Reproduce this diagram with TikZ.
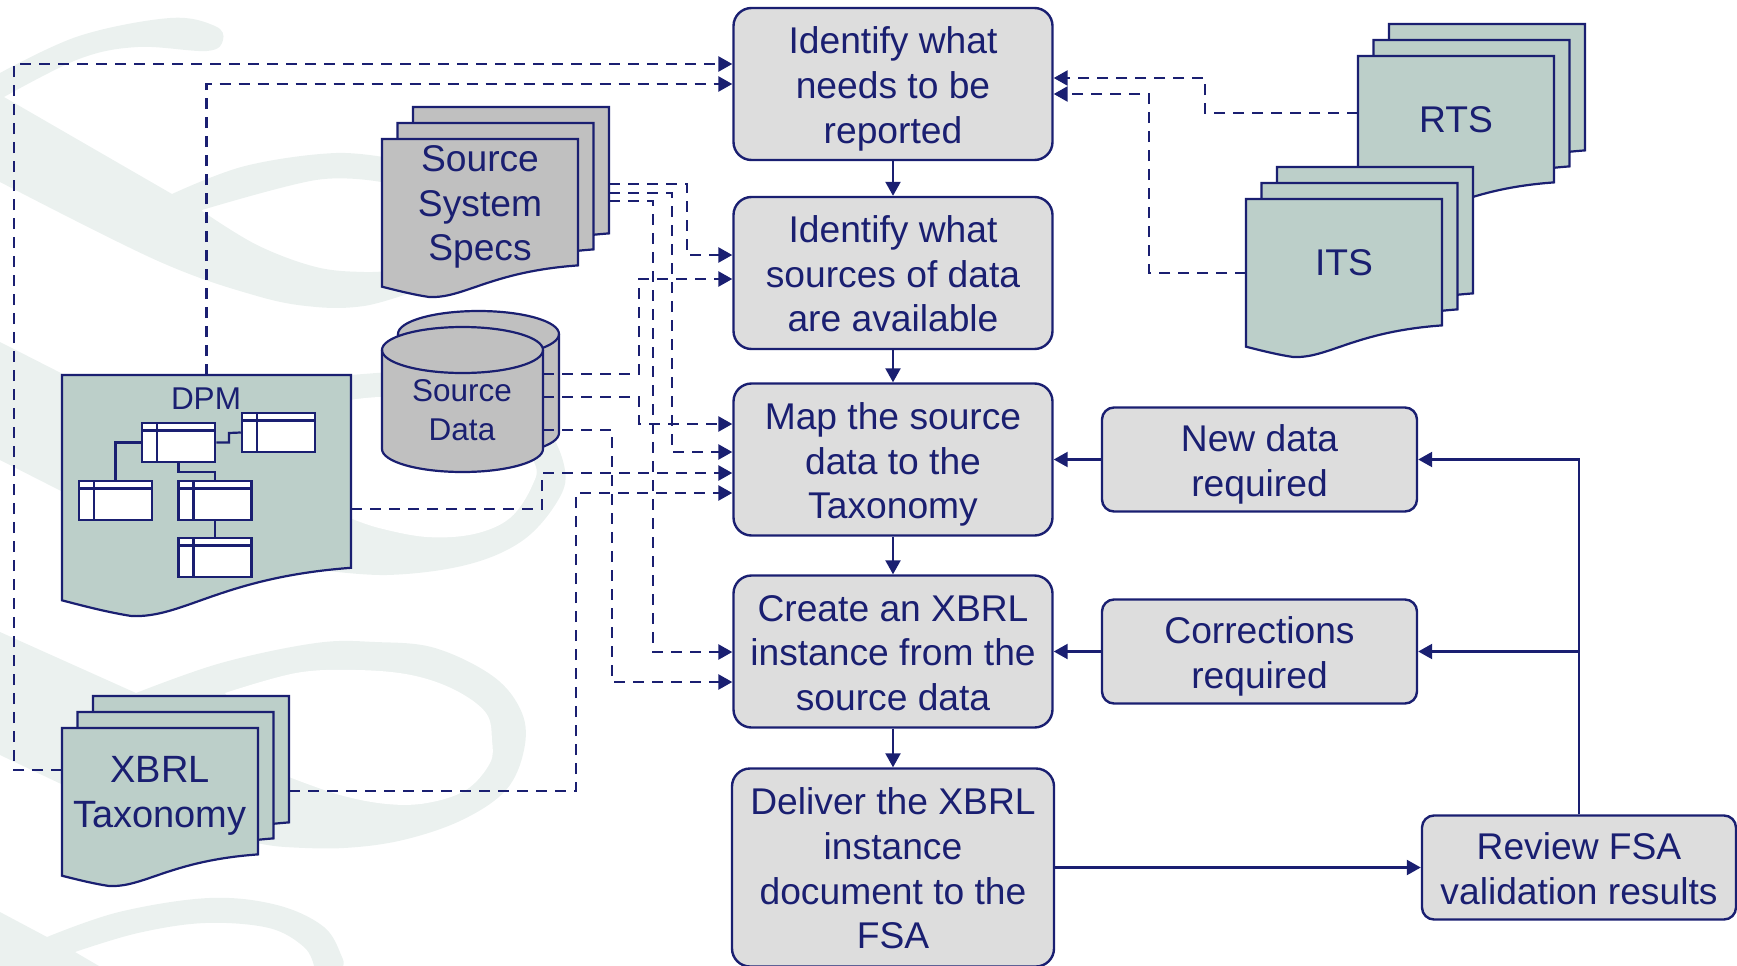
\documentclass[tikz,border=0pt]{standalone}
\usepackage{fontspec}
\setmainfont{Liberation Sans}
\usetikzlibrary{arrows.meta}
\definecolor{navyline}{HTML}{1A1F71}
\definecolor{stepgrey}{HTML}{DDDDDD}
\definecolor{docgreen}{HTML}{BCCFC9}
\definecolor{docgrey}{HTML}{C0C0C0}
\definecolor{swooshtint}{HTML}{EBF1EF}
\newcommand{\nodrop}[1]{\raisebox{0pt}[\height][0pt]{#1}}
\newcommand{\upline}{\rule{0pt}{29pt}}
\tikzset{
  stepbox/.style={draw=navyline,fill=stepgrey,line width=2.4pt,rounded corners=18pt,
    align=center,text=navyline,font=\fontsize{37.2}{44.6}\selectfont,inner sep=0pt},
  doctext/.style={align=center,text=navyline,font=\fontsize{37.2}{44.6}\selectfont,inner sep=0pt},
  smalltext/.style={align=center,text=navyline,font=\fontsize{31.5}{39}\selectfont,inner sep=0pt},
  pageline/.style={draw=navyline,line width=2.2pt},
  flowline/.style={draw=navyline,line width=2.3pt,->},
  dashline/.style={draw=navyline,line width=2.6pt,dash pattern=on 11pt off 8pt,->},
  tablelink/.style={draw=navyline,line width=2.2pt},
  minitable/.style={draw=navyline,fill=white,line width=2.5pt,minimum width=73pt,minimum height=39pt,
    inner sep=0pt,path picture={
      \draw[navyline,line width=2.5pt] ([yshift=-7.5pt]path picture bounding box.north west) -- ([yshift=-7.5pt]path picture bounding box.north east);
      \draw[navyline,line width=2.5pt] ([xshift=15pt]path picture bounding box.north west) -- ([xshift=15pt]path picture bounding box.south west);}},
}
% name, left, top, width, height, fill
\newcommand{\docpage}[6]{
  \begin{scope}[shift={(#2,#3)},xscale=#4,yscale=#5]
    \draw[pageline,fill=#6] (0,0) -- (1,0) -- (1,.80) .. controls (.55,.84) and (.42,1.01) .. (.24,1)
      .. controls (.16,.985) and (.08,.96) .. (0,.935) -- cycle;
    \node[inner sep=0pt,outer sep=0pt,minimum width=#4pt,minimum height=#5pt] (#1) at (.5,.5) {};
  \end{scope}
}
% name, left, top, fill
\newcommand{\docstack}[4]{
  \docpage{#1_back}{#2+31}{#3-32}{196}{158}{#4}
  \docpage{#1_mid}{#2+15.5}{#3-16}{196}{158}{#4}
  \docpage{#1_front}{#2}{#3}{196}{158}{#4}
}
% name, left, top
\newcommand{\drumpage}[3]{
  \begin{scope}[shift={(#2,#3)}]
    \draw[pageline,fill=docgrey] (0,23) -- (0,122) arc[start angle=180,end angle=360,x radius=80.5pt,y radius=23pt]
      -- (161,23) arc[start angle=0,end angle=180,x radius=80.5pt,y radius=23pt] -- cycle;
    \draw[pageline] (0,23) arc[start angle=180,end angle=360,x radius=80.5pt,y radius=23pt];
    \node[inner sep=0pt,outer sep=0pt,minimum width=161pt,minimum height=145pt] (#1) at (80.5,72.5) {};
  \end{scope}
}

\begin{document}
\begin{tikzpicture}[x=1pt,y=-1pt,>={Triangle[length=14pt,width=15pt]},line join=miter]
\useasboundingbox (0,0) rectangle (1737,966);
%% background
\fill[swooshtint] plot[smooth,tension=.6] coordinates {(0,73) (79,36) (170,18) (215,26) (223,40) (207,51) (138,47) (79,59) (4,97)}
  -- (172,194) -- plot[smooth,tension=.6] coordinates {(172,194) (245,166) (336,153) (400,160)}
  -- (400,185) -- plot[smooth,tension=.6] coordinates {(381,182) (316,180) (202,210)}
  -- plot[smooth,tension=.6] coordinates {(202,211) (257,245) (316,267) (364,272) (400,270)}
  -- plot[smooth,tension=.6] coordinates {(407,294) (364,306) (316,307) (257,296) (158,261) (0,182)} -- cycle;
\fill[swooshtint] (0,342) -- (110,398) -- plot[smooth,tension=.6] coordinates {(110,398) (240,385) (350,375) (420,373) (500,390) (545,425) (565,470) (557,502) (522,541) (466,565) (387,575) (312,569)}
  -- (200,540) -- (63,492) -- (0,460) -- cycle;
\fill[white] plot[smooth,tension=.6] coordinates {(350,518) (379,528) (427,537) (474,534) (510,518) (532,486) (534,462) (500,420) (440,398) (381,397) (350,400)} -- cycle;
\fill[swooshtint] (0,632) -- (136,693) -- plot[smooth,tension=.6] coordinates {(136,693) (221,663) (316,643) (375,642) (435,648) (494,677) (522,713) (524,750) (506,790) (462,820) (403,840) (344,848) (285,847) (257,843)}
  -- (150,820) -- (59,783) -- (0,755) -- cycle;
\fill[white] plot[smooth,tension=.6] coordinates {(225,693) (296,673) (356,670) (411,675) (455,690) (486,713) (492,740) (490,763) (466,790) (427,803) (387,804) (340,795) (289,777)} -- cycle;
\fill[swooshtint] (0,912) -- (47,937) -- plot[smooth,tension=.6] coordinates {(47,937) (119,912) (209,898) (277,905) (324,927) (342,957) (343,966)}
  -- (314,966) -- plot[smooth,tension=.6] coordinates {(314,966) (304,947) (269,928) (205,923) (138,933) (75,952)} -- (99,966) -- (0,966) -- cycle;
%% documents
\docstack{rts}{1358}{56}{docgreen}
\docstack{its}{1246}{199}{docgreen}
\docstack{specs}{382}{139}{docgrey}
\docstack{xbrl}{62}{728}{docgreen}
\docpage{dpm}{62}{375}{289}{241}{docgreen}
\drumpage{data_back}{398}{311}
\drumpage{data_front}{382}{327}
\node[doctext] (text_rts) at (1456,119.5) {RTS};
\node[doctext] (text_its) at (1344,263) {ITS};
\node[doctext] (text_specs) at (480,207) {Source\\System\\Specs};
\node[doctext,font=\fontsize{38}{45}\selectfont] (text_xbrl) at (160,795.5) {XBRL\\Taxonomy};
\node[smalltext] (text_data) at (462,410) {Source\\Data};
\node[smalltext] (text_dpm) at (206,399) {DPM};
%% tables in the DPM page
\node[minitable] (table_top) at (178.5,442.5) {};
\node[minitable] (table_right) at (278.5,432.5) {};
\node[minitable] (table_left) at (115.5,500.5) {};
\node[minitable] (table_mid) at (215,500.5) {};
\node[minitable] (table_low) at (215,557.5) {};
\draw[tablelink] (table_top.west) -| (table_left.north);
\draw[tablelink] (table_top.east) -| (229,433) -- (table_right.west);
\draw[tablelink] (table_top.south) |- (215,472) -- (table_mid.north);
\draw[tablelink] (table_mid.south) -- (table_low.north);
%% steps
\node[stepbox,minimum width=319pt,minimum height=152pt] (step_identify) at (893,84) {\upline Identify what\\needs to be\\\nodrop{reported}};
\node[stepbox,minimum width=319pt,minimum height=152pt] (step_sources) at (893,273) {\upline Identify what\\sources of data\\are available};
\node[stepbox,minimum width=319pt,minimum height=152pt] (step_map) at (893,459.5) {\upline Map the source\\data to the\\\nodrop{Taxonomy}};
\node[stepbox,minimum width=319pt,minimum height=152pt] (step_create) at (893,651.5) {\upline Create an XBRL\\instance from the\\source data};
\node[stepbox,minimum width=322pt,minimum height=198pt] (step_deliver) at (893,867.5) {\upline Deliver the XBRL\\instance\\document to the\\FSA};
\node[stepbox,minimum width=315pt,minimum height=104pt,rounded corners=12pt] (step_new) at (1259.5,459.5) {\upline New data\\\nodrop{required}};
\node[stepbox,minimum width=315pt,minimum height=104pt,rounded corners=12pt] (step_fix) at (1259.5,651.5) {\upline Corrections\\\nodrop{required}};
\node[stepbox,minimum width=314pt,minimum height=104pt,rounded corners=12pt] (step_review) at (1579,867.5) {\upline Review FSA\\validation results};
%% solid arrows
\draw[flowline] (step_identify) -- (step_sources);
\draw[flowline] (step_sources) -- (step_map);
\draw[flowline] (step_map) -- (step_create);
\draw[flowline] (step_create) -- (step_deliver);
\draw[flowline] (step_new) -- (step_map);
\draw[flowline] (step_fix) -- (step_create);
\draw[flowline] (step_deliver) -- (step_review);
\draw[flowline] (step_review.north) |- (step_new.east);
\draw[flowline] (step_review.north) |- (step_fix.east);
%% dashed arrows
\draw[dashline] (xbrl_front.west |- 0,770) -| (14,64) -- (step_identify.west |- 0,64);
\draw[dashline] (dpm.north) |- (step_identify.west |- 0,84);
\draw[dashline] (rts_front.west |- 0,113) -| (1205,78) -- (step_identify.east |- 0,78);
\draw[dashline] (its_front.west |- 0,273) -| (1149,94) -- (step_identify.east |- 0,94);
\draw[dashline] (specs_back.east |- 0,184) -| (687,255) -- (step_sources.west |- 0,255);
\draw[dashline] (specs_back.east |- 0,193) -| (672,452) -- (step_map.west |- 0,452);
\draw[dashline] (specs_back.east |- 0,201) -| (653,652) -- (step_create.west |- 0,652);
\draw[dashline] (data_front.east |- 0,374) -| (639,279) -- (step_sources.west |- 0,279);
\draw[dashline] (data_front.east |- 0,397) -| (639,424) -- (step_map.west |- 0,424);
\draw[dashline] (data_front.east |- 0,430) -| (612,682) -- (step_create.west |- 0,682);
\draw[dashline] (dpm.east |- 0,509) -| (542,473) -- (step_map.west |- 0,473);
\draw[dashline] (xbrl_back.east |- 0,791) -| (576,493) -- (step_map.west |- 0,493);
%
\end{tikzpicture}
\end{document}
